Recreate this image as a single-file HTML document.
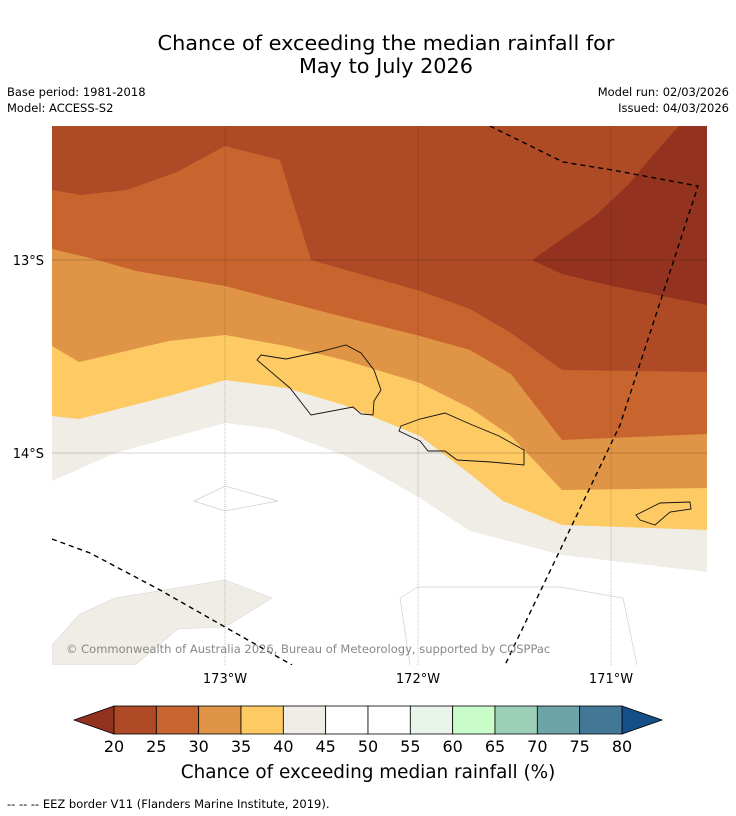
<!DOCTYPE html>
<html><head><meta charset="utf-8"><style>
html,body{margin:0;padding:0;background:#fff;}
svg{display:block;font-family:"DejaVu Sans","Liberation Sans",sans-serif;}
</style></head><body>
<svg id="fig" width="736" height="816" viewBox="0 0 736 816">
<text x="386" y="50" font-size="20.8" text-anchor="middle">Chance of exceeding the median rainfall for</text>
<text x="386" y="73" font-size="20.8" text-anchor="middle">May to July 2026</text>
<text x="7" y="96" font-size="11.5">Base period: 1981-2018</text>
<text x="7" y="112" font-size="11.5">Model: ACCESS-S2</text>
<text x="729" y="96" font-size="11.5" text-anchor="end">Model run: 02/03/2026</text>
<text x="729" y="112" font-size="11.5" text-anchor="end">Issued: 04/03/2026</text>

<defs><clipPath id="mapclip"><rect x="52" y="126" width="655" height="539"/></clipPath></defs>
<g id="map" clip-path="url(#mapclip)">
<rect x="52" y="126" width="655" height="539" fill="#ffffff"/>
<polygon fill="#f0ece6" points="52,126 707,126 707,572 562,555 470,531 420,498 344,455 273,429 225,423 115,453 52,481"/>
<polygon fill="#fdca64" points="52,126 707,126 707,530 562,525 503,501 470,474 420,436 344,405 286,388 225,380 169,396 79,419 52,416"/>
<polygon fill="#e09445" points="52,126 707,126 707,488 562,490 511,436 470,408 420,383 344,360 286,346 225,335 169,341 79,362 52,346"/>
<polygon fill="#c8652f" points="52,126 707,126 707,434 562,440 511,374 470,350 420,336 344,317 286,302 225,286 136,271 94,259 52,249"/>
<polygon fill="#ae4a25" points="52,126 707,126 707,372 562,370 511,333 470,309 420,291 311,260 280,160 225,146 177,172 127,190 81,195 52,190"/>
<polygon fill="#93321e" points="679,126 654,154 628,185 595,216 532,260 562,274 612,286 707,305 707,126"/>
<polygon fill="#f0ece6" stroke="#d8d8d8" stroke-width="0.6" points="52,645 80,614 115,598 225,580 272,598 225,627 178,629 135,665 52,665"/>
<polygon fill="none" stroke="#d0d0d0" stroke-width="0.7" points="194,501 225,486 278,501 225,511"/>
<polyline fill="none" stroke="#d0d0d0" stroke-width="0.7" points="410,665 400,598 418,587 560,587 623,598 637,665"/>
<g stroke="rgba(0,0,0,0.45)" stroke-width="0.5" stroke-dasharray="1,1">
<line x1="225" y1="126" x2="225" y2="665"/><line x1="418" y1="126" x2="418" y2="665"/><line x1="611" y1="126" x2="611" y2="665"/>
</g>
<g stroke="rgba(0,0,0,0.35)" stroke-width="0.6">
<line x1="52" y1="260" x2="707" y2="260"/><line x1="52" y1="453" x2="707" y2="453"/>
</g>
<g fill="none" stroke="#000" stroke-width="1.4" stroke-dasharray="5,4">
<polyline points="490,126 563,162 612,170 698,186 620,425 505,665"/>
<polyline points="52,539 90,553 160,590 225,627 292,665"/>
</g>
<g fill="none" stroke="#111" stroke-width="0.9">
<polygon points="257,360 261,355 286,359 319,352 346,345 361,353 374,370 381,390 374,401 373,415 361,414 353,407 311,415 290,388"/>
<polygon points="401,426 420,419 445,413 470,424 499,436 524,450 524,465 491,462 457,460 445,451 428,451 420,441 399,431"/>
<polygon points="636,515 650,508 660,503 690,502 691,509 670,512 655,525 640,520"/>
</g>
<text x="66" y="653" font-size="11.5" fill="#888">© Commonwealth of Australia 2026, Bureau of Meteorology, supported by COSPPac</text>
</g>
<g font-size="13">
<text x="44" y="265" text-anchor="end">13°S</text>
<text x="44" y="458" text-anchor="end">14°S</text>
<text x="225" y="683" text-anchor="middle">173°W</text>
<text x="418" y="683" text-anchor="middle">172°W</text>
<text x="611" y="683" text-anchor="middle">171°W</text>
</g>
<g id="cbar"></g>
<text x="368" y="778" font-size="18.4" text-anchor="middle">Chance of exceeding median rainfall (%)</text>
<text x="7" y="808" font-size="11.5">--  --  -- EEZ border V11 (Flanders Marine Institute, 2019).</text>
</svg>
<script>
const levels=[20,25,30,35,40,45,50,55,60,65,70,75,80];
const binColors=["#ae4a25","#c8652f","#e09445","#fdca64","#f0ece6","#ffffff","#ffffff","#eaf5e9","#c9fcc9","#9ccfb8","#6da4a8","#427796"];
const underColor="#93321e";
const overColor="#154f86";
const NS="http://www.w3.org/2000/svg";
const g=document.getElementById('cbar');
const x0=114,x1=622,y0=706,h=28;
const xs=v=>x0+(v-levels[0])/(levels[levels.length-1]-levels[0])*(x1-x0);
function mk(t,a){const e=document.createElementNS(NS,t);for(const k in a)e.setAttribute(k,a[k]);g.appendChild(e);return e;}
const lt=mk('polygon',{points:`${x0},${y0} 74,${y0+h/2} ${x0},${y0+h}`,fill:underColor,stroke:'#000','stroke-width':0.8});


const rt=mk('polygon',{points:`${x1},${y0} 662,${y0+h/2} ${x1},${y0+h}`,fill:overColor,stroke:'#000','stroke-width':0.8});


binColors.forEach((c,i)=>{
 const r=mk('rect',{x:xs(levels[i]),y:y0,width:xs(levels[i+1])-xs(levels[i]),height:h,fill:c,stroke:'#000','stroke-width':0.8});
 
 
});
levels.forEach(v=>{
 const t=mk('text',{x:xs(v),y:752,'font-size':16,'text-anchor':'middle'});
 t.textContent=v;
 
 
});
</script>
</body></html>
